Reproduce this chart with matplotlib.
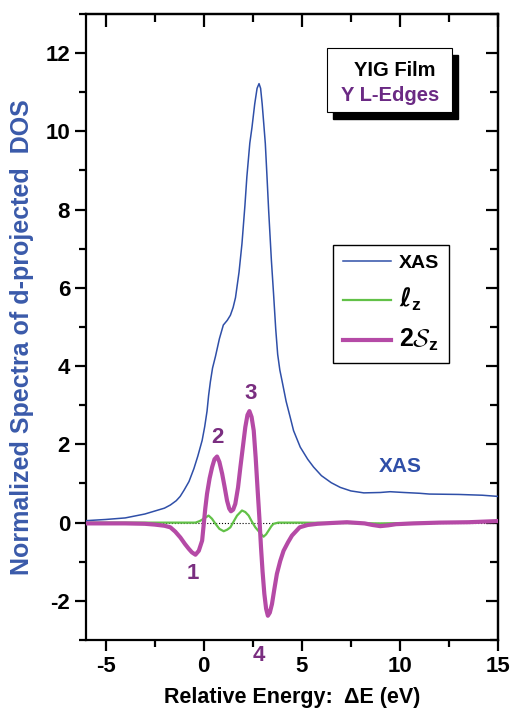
import matplotlib
matplotlib.use('Agg')
import matplotlib.pyplot as plt
from matplotlib.lines import Line2D
from matplotlib.patches import Rectangle
from matplotlib.ticker import MultipleLocator

# values
xas_e = [-6, -5, -4, -3, -2, -1.7, -1.4, -1.2, -1.0, -0.75, -0.5, -0.3, -0.08,
         0.05, 0.17, 0.25, 0.34, 0.45, 0.6, 0.8, 1.0, 1.2, 1.36, 1.5, 1.62,
         1.8, 1.95, 2.1, 2.2, 2.35, 2.46, 2.6, 2.72, 2.82, 2.9, 2.98, 3.06,
         3.14, 3.22, 3.31, 3.45, 3.56, 3.67, 3.77, 3.88, 3.99, 4.2, 4.41, 4.58,
         4.92, 5.3, 5.6, 6.0, 6.5, 6.96, 7.5, 8.16, 9.0, 9.5, 10.2, 11.0, 11.5,
         13, 14.2, 15]
xas_y = [0.05, 0.08, 0.12, 0.22, 0.37, 0.45, 0.56, 0.67, 0.83, 1.05, 1.38, 1.7,
         2.1, 2.45, 2.85, 3.25, 3.6, 3.95, 4.25, 4.7, 5.05, 5.17, 5.3, 5.5,
         5.75, 6.4, 7.13, 8.1, 8.84, 9.7, 10.1, 10.7, 11.1, 11.22, 11.1, 10.7,
         10.2, 9.69, 8.9, 7.98, 6.7, 5.85, 4.95, 4.3, 3.9, 3.63, 3.1, 2.69,
         2.35, 1.93, 1.62, 1.42, 1.2, 1.02, 0.9, 0.81, 0.76, 0.77, 0.79, 0.77,
         0.75, 0.73, 0.72, 0.7, 0.67]

sz_e = [-6, -4, -3, -2.5, -2, -1.7, -1.45, -1.19, -0.95, -0.76, -0.6, -0.42,
        -0.25, -0.08, 0, 0.08, 0.17, 0.3, 0.43, 0.55, 0.68, 0.8, 0.94, 1.07,
        1.19, 1.3, 1.39, 1.5, 1.61, 1.75, 1.87, 2.0, 2.12, 2.23, 2.33, 2.44,
        2.55, 2.65, 2.75, 2.84, 2.92, 3.0, 3.09, 3.18, 3.27, 3.37, 3.48, 3.6,
        3.73, 3.9, 4.07, 4.3, 4.5, 4.89, 5.3, 5.8, 6.5, 7.3, 8.2, 8.6, 9.0,
        9.4, 9.8, 10.7, 12, 13.5, 15]
sz_y = [-0.02, -0.02, -0.03, -0.05, -0.08, -0.12, -0.23, -0.38, -0.55, -0.67,
        -0.76, -0.82, -0.72, -0.46, -0.05, 0.36, 0.74, 1.13, 1.42, 1.62, 1.69,
        1.55, 1.25, 0.9, 0.56, 0.36, 0.29, 0.33, 0.48, 0.9, 1.42, 1.95, 2.44,
        2.75, 2.85, 2.7, 2.35, 1.65, 0.82, 0.1, -0.63, -1.25, -1.82, -2.2,
        -2.38, -2.3, -2.08, -1.7, -1.31, -0.98, -0.72, -0.5, -0.33, -0.12,
        -0.06, -0.03, -0.01, 0.01, -0.02, -0.06, -0.09, -0.07, -0.04, -0.02,
        0.0, 0.01, 0.04]

lz_e = [-6, -2, -1, -0.42, -0.2, 0, 0.25, 0.42, 0.6, 0.8, 1.02, 1.2, 1.36,
        1.55, 1.7, 1.95, 2.12, 2.29, 2.45, 2.63, 2.8, 2.92, 3.05, 3.18, 3.31,
        3.45, 3.56, 3.8, 4.9, 9, 12, 15]
lz_y = [0, 0, 0, 0, 0.04, 0.1, 0.18, 0.1, -0.03, -0.16, -0.22, -0.18, -0.12,
        0.05, 0.18, 0.31, 0.27, 0.18, 0.03, -0.12, -0.22, -0.29, -0.36, -0.3,
        -0.2, -0.09, -0.03, 0, 0, -0.02, 0, 0.02]

peak_labels = ['1', '2', '3', '4']
peak_e = [-0.58, 0.7, 2.4, 2.8]
peak_y = [-1.3, 2.17, 3.3, -3.4]

blue = '#2f4fa8'
green = '#62c148'
magenta = '#b54aa6'
purple = '#7a2e80'

plt.rcParams['font.family'] = ['Liberation Sans', 'DejaVu Sans']
plt.rcParams['font.weight'] = 'bold'
plt.rcParams['mathtext.fontset'] = 'custom'
plt.rcParams['mathtext.rm'] = 'Liberation Sans:bold'
plt.rcParams['mathtext.bf'] = 'Liberation Sans:bold'
plt.rcParams['mathtext.it'] = 'DejaVu Sans:italic'
plt.rcParams['mathtext.cal'] = 'cmsy10'
plt.rcParams['axes.unicode_minus'] = False

fig = plt.figure(figsize=(5.13, 7.10), dpi=100)
ax = fig.add_axes([0.1676, 0.0986, 0.8032, 0.8817])

ax.axhline(0, color='black', linestyle=':', linewidth=0.8, zorder=1)
ax.plot(xas_e, xas_y, color=blue, linewidth=1.1, zorder=3)
ax.plot(lz_e, lz_y, color=green, linewidth=1.6, zorder=2)
ax.plot(sz_e, sz_y, color=magenta, linewidth=3, zorder=4)

for lab, xe, ye in zip(peak_labels, peak_e, peak_y):
    ax.text(xe, ye, lab, color=purple, fontsize=16, fontweight='bold',
            ha='center', va='center')
ax.text(10.0, 1.43, 'XAS', color=blue, fontsize=15, fontweight='bold',
        ha='center', va='center')

ax.set_xlim(-6, 15)
ax.set_ylim(-3, 13)
ax.xaxis.set_major_locator(MultipleLocator(5))
ax.xaxis.set_minor_locator(MultipleLocator(2.5))
ax.yaxis.set_major_locator(MultipleLocator(2))
ax.yaxis.set_minor_locator(MultipleLocator(1))
ax.tick_params(which='both', direction='out', width=1.6, labelsize=16,
               top=False, right=False)
ax.tick_params(which='major', length=8)
ax.tick_params(which='minor', length=5)
for lbl in ax.get_xticklabels() + ax.get_yticklabels():
    lbl.set_fontweight('bold')
for s in ax.spines.values():
    s.set_linewidth(1.6)

# top and right ticks point inward
sec_x = ax.secondary_xaxis('top')
sec_x.xaxis.set_major_locator(MultipleLocator(5))
sec_x.xaxis.set_minor_locator(MultipleLocator(2.5))
sec_x.tick_params(which='both', direction='in', width=1.6, labeltop=False)
sec_x.tick_params(which='major', length=9)
sec_x.tick_params(which='minor', length=6)
sec_x.spines['top'].set_linewidth(1.6)
sec_y = ax.secondary_yaxis('right')
sec_y.yaxis.set_major_locator(MultipleLocator(2))
sec_y.yaxis.set_minor_locator(MultipleLocator(1))
sec_y.tick_params(which='both', direction='in', width=1.6, labelright=False)
sec_y.tick_params(which='major', length=9)
sec_y.tick_params(which='minor', length=6)
sec_y.spines['right'].set_linewidth(1.6)

fig.text(292 / 513, 0.017, 'Relative Energy:  ΔE (eV)', fontsize=15.5,
         fontweight='bold', ha='center', va='center')
fig.text(22 / 513, 0.525, 'Normalized Spectra of d-projected  DOS',
         fontsize=18, fontweight='bold', color='#3a5aaa', rotation=90,
         ha='center', va='center')

handles = [Line2D([], [], color=blue, linewidth=1.1),
           Line2D([], [], color=green, linewidth=1.6),
           Line2D([], [], color=magenta, linewidth=3)]
labels = ['XAS', r'$\ell_{\mathbf{z}}$', r'$\mathbf{2}\mathcal{S}_{\mathbf{z}}$']
leg = fig.legend(handles, labels, loc='upper left',
                 bbox_to_anchor=(0.649, 0.655), borderaxespad=0,
                 fancybox=False, edgecolor='black', framealpha=1,
                 handlelength=2.5, handletextpad=0.4, labelspacing=0.7,
                 borderpad=0.5, prop={'weight': 'bold', 'size': 14})
leg.get_frame().set_linewidth(1.0)
for t in leg.get_texts()[1:]:
    t.set_fontsize(18)

# title box with drop shadow
fig.patches.append(Rectangle((0.6491, 0.8324), 0.2437, 0.0901,
                             transform=fig.transFigure, facecolor='black',
                             edgecolor='black', zorder=5))
fig.patches.append(Rectangle((0.6374, 0.8423), 0.2437, 0.0901,
                             transform=fig.transFigure, facecolor='white',
                             edgecolor='black', linewidth=0.8, zorder=6))
fig.text(0.770, 0.9, 'YIG Film', fontsize=14.5, fontweight='bold',
         color='black', ha='center', va='center', zorder=7)
fig.text(0.761, 0.866, 'Y L-Edges', fontsize=14.5, fontweight='bold',
         color='#6b2a84', ha='center', va='center', zorder=7)

fig.savefig('out.png', dpi=100)
